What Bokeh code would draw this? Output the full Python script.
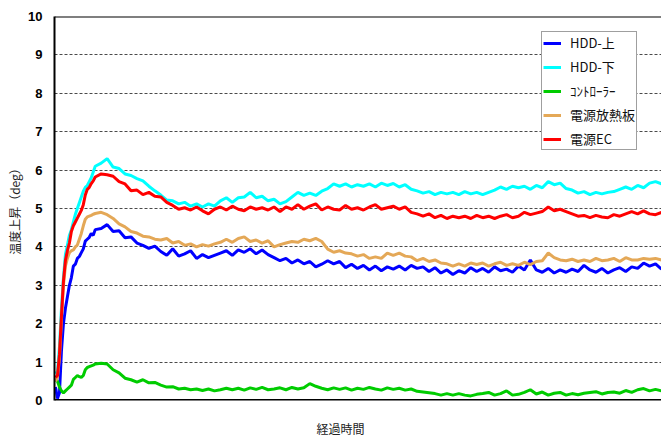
from bokeh.plotting import figure
from bokeh.models import Range1d, FixedTicker, Span, Title, Legend, LegendItem
from bokeh.embed import file_html
from bokeh.resources import INLINE

# sample times (arbitrary units, no ticks on the time axis)
time = [0, 2, 4, 6, 8, 10, 12, 14, 16, 18, 20, 22, 24, 26, 28, 30, 32, 34, 36, 38, 40,
        46, 52, 58, 64, 70, 76, 82, 88, 94, 100,
        106, 112, 118, 124, 130, 136, 142, 148, 154, 160,
        166, 172, 178, 184, 190, 196, 202, 208, 214, 220,
        226, 232, 238, 244, 250, 256, 262, 268, 274, 280,
        286, 292, 298, 304, 310, 316, 322, 328, 334, 340,
        346, 352, 358, 364, 370, 376, 382, 388, 394, 400,
        406, 412, 418, 424, 430, 436, 442, 448, 454, 460,
        466, 472, 478, 484, 490, 496, 502, 508, 514, 520,
        526, 532, 538, 544, 550, 556, 562, 568, 574, 580,
        586, 592, 598, 604, 610]

hdd_top = [0.35, 0.05, 0.20, 1.30, 2.00, 2.40, 2.70, 3.00, 3.20, 3.50, 3.55, 3.70, 3.75, 3.85, 3.95, 4.15, 4.20, 4.25, 4.35, 4.30, 4.45,
           4.48, 4.58, 4.40, 4.42, 4.24, 4.26, 4.10, 4.04, 3.96, 4.02,
           3.88, 3.78, 3.95, 3.76, 3.82, 3.90, 3.70, 3.80, 3.72, 3.78,
           3.84, 3.90, 3.78, 3.92, 3.86, 3.95, 3.82, 3.92, 3.80, 3.72,
           3.64, 3.70, 3.58, 3.66, 3.56, 3.62, 3.48, 3.55, 3.64, 3.56,
           3.62, 3.46, 3.55, 3.44, 3.52, 3.40, 3.50, 3.38, 3.48, 3.42,
           3.50, 3.40, 3.52, 3.44, 3.48, 3.36, 3.46, 3.32, 3.40, 3.28,
           3.38, 3.32, 3.46, 3.36, 3.44, 3.34, 3.48, 3.38, 3.42, 3.34,
           3.50, 3.40, 3.66, 3.40, 3.34, 3.44, 3.32, 3.40, 3.34, 3.42,
           3.36, 3.52, 3.40, 3.34, 3.44, 3.32, 3.40, 3.46, 3.36, 3.48,
           3.44, 3.58, 3.50, 3.56, 3.42]

hdd_bottom = [0.70, 0.75, 1.40, 2.40, 3.20, 3.80, 4.05, 4.30, 4.45, 4.65, 4.85, 5.00, 5.15, 5.30, 5.45, 5.55, 5.60, 5.70, 5.80, 5.95, 6.10,
              6.18, 6.30, 6.08, 6.04, 5.90, 5.86, 5.78, 5.72, 5.58, 5.46,
              5.35, 5.22, 5.20, 5.12, 5.16, 5.06, 5.12, 5.04, 5.12, 5.06,
              5.20, 5.28, 5.16, 5.28, 5.30, 5.42, 5.28, 5.32, 5.20, 5.24,
              5.12, 5.18, 5.30, 5.42, 5.34, 5.40, 5.34, 5.45, 5.52, 5.64,
              5.58, 5.64, 5.56, 5.62, 5.58, 5.64, 5.56, 5.66, 5.60, 5.65,
              5.56, 5.62, 5.50, 5.46, 5.40, 5.44, 5.36, 5.42, 5.38, 5.42,
              5.36, 5.44, 5.38, 5.42, 5.36, 5.42, 5.48, 5.56, 5.50, 5.58,
              5.54, 5.58, 5.50, 5.60, 5.54, 5.70, 5.62, 5.66, 5.52, 5.48,
              5.40, 5.44, 5.36, 5.42, 5.38, 5.42, 5.44, 5.50, 5.56, 5.50,
              5.60, 5.54, 5.66, 5.70, 5.64]

controller = [0.55, 0.50, 0.35, 0.25, 0.20, 0.25, 0.30, 0.35, 0.40, 0.55, 0.60, 0.65, 0.62, 0.60, 0.65, 0.80, 0.86, 0.88, 0.90, 0.92, 0.95,
              0.97, 0.95, 0.80, 0.72, 0.58, 0.54, 0.48, 0.54, 0.46, 0.47,
              0.40, 0.35, 0.36, 0.30, 0.32, 0.28, 0.30, 0.26, 0.30, 0.25,
              0.28, 0.32, 0.28, 0.32, 0.27, 0.33, 0.29, 0.34, 0.28, 0.30,
              0.33, 0.28, 0.34, 0.30, 0.33, 0.44, 0.37, 0.32, 0.28, 0.33,
              0.29, 0.33, 0.27, 0.32, 0.29, 0.34, 0.30, 0.27, 0.33, 0.29,
              0.32, 0.27, 0.30, 0.24, 0.22, 0.20, 0.18, 0.14, 0.18, 0.14,
              0.18, 0.14, 0.12, 0.16, 0.18, 0.21, 0.14, 0.18, 0.25, 0.14,
              0.16, 0.21, 0.28, 0.17, 0.22, 0.14, 0.19, 0.21, 0.14, 0.18,
              0.15, 0.19, 0.21, 0.23, 0.17, 0.21, 0.22, 0.19, 0.26, 0.21,
              0.28, 0.31, 0.25, 0.29, 0.25]

psu_heatsink = [0.50, 0.60, 1.10, 2.10, 3.00, 3.50, 3.70, 3.85, 3.90, 3.92, 4.00, 4.05, 4.20, 4.35, 4.55, 4.72, 4.78, 4.80, 4.82, 4.85, 4.87,
                4.90, 4.84, 4.74, 4.60, 4.52, 4.40, 4.36, 4.28, 4.26, 4.20,
                4.18, 4.22, 4.10, 4.14, 4.04, 4.08, 4.00, 4.06, 4.02, 4.08,
                4.12, 4.20, 4.12, 4.22, 4.26, 4.14, 4.18, 4.10, 4.16, 4.00,
                4.06, 4.10, 4.14, 4.12, 4.20, 4.16, 4.22, 4.14, 3.94, 3.86,
                3.90, 3.84, 3.82, 3.76, 3.80, 3.70, 3.74, 3.70, 3.84, 3.78,
                3.84, 3.76, 3.74, 3.64, 3.70, 3.62, 3.66, 3.58, 3.56, 3.50,
                3.56, 3.50, 3.58, 3.54, 3.58, 3.50, 3.56, 3.60, 3.52, 3.56,
                3.52, 3.60, 3.54, 3.62, 3.64, 3.84, 3.72, 3.66, 3.64, 3.68,
                3.62, 3.66, 3.62, 3.70, 3.64, 3.66, 3.70, 3.62, 3.72, 3.66,
                3.66, 3.70, 3.68, 3.70, 3.66]

psu_ec = [0.60, 0.65, 1.20, 2.20, 3.10, 3.65, 3.90, 4.10, 4.40, 4.55, 4.65, 4.75, 4.85, 4.95, 5.10, 5.35, 5.50, 5.55, 5.65, 5.72, 5.82,
          5.90, 5.88, 5.84, 5.70, 5.64, 5.46, 5.48, 5.36, 5.42, 5.32,
          5.30, 5.16, 5.08, 4.98, 5.02, 4.96, 5.04, 4.94, 4.86, 4.98,
          5.04, 4.96, 5.06, 4.98, 4.94, 5.04, 4.98, 5.02, 4.96, 5.04,
          4.92, 5.04, 4.98, 5.10, 4.98, 5.06, 5.12, 4.96, 5.04, 4.98,
          4.96, 5.08, 4.98, 5.02, 4.96, 5.04, 5.10, 4.98, 5.02, 5.06,
          4.98, 5.04, 4.90, 4.86, 4.80, 4.86, 4.76, 4.82, 4.74, 4.80,
          4.76, 4.80, 4.74, 4.82, 4.76, 4.80, 4.74, 4.80, 4.84, 4.76,
          4.80, 4.90, 4.84, 4.88, 4.92, 5.04, 4.94, 4.98, 4.92, 4.86,
          4.80, 4.82, 4.76, 4.82, 4.78, 4.76, 4.84, 4.80, 4.86, 4.92,
          4.86, 4.94, 4.86, 4.84, 4.90]

series_names = ["HDD-上", "HDD-下", "ｺﾝﾄﾛｰﾗｰ", "電源放熱板", "電源EC"]
series_values = [hdd_top, hdd_bottom, controller, psu_heatsink, psu_ec]
series_colors = ["#0000FF", "#00FFFF", "#00CC00", "#E4A857", "#FF0000"]
y_ticks = [0, 1, 2, 3, 4, 5, 6, 7, 8, 9, 10]
y_label = "温度上昇（deg）"
x_label = "経過時間"

p = figure(width=661, height=436, output_backend="svg", toolbar_location=None,
           x_range=Range1d(-1, 610), y_range=Range1d(0, 10),
           min_border_left=54, min_border_right=0, min_border_top=16, min_border_bottom=36)
p.outline_line_color = None
p.background_fill_color = "white"
p.border_fill_color = "white"

p.xaxis.visible = False
p.xgrid.visible = False

yax = p.yaxis[0]
yax.ticker = FixedTicker(ticks=y_ticks)
yax.axis_line_color = "black"
yax.axis_line_width = 2
yax.major_tick_out = 0
yax.major_tick_in = 0
yax.minor_tick_out = 0
yax.minor_tick_in = 0
yax.major_label_standoff = 12
yax.major_label_text_font = "Liberation Sans"
yax.major_label_text_font_style = "bold"
yax.major_label_text_font_size = "13px"
yax.major_label_text_color = "black"
yax.axis_label = y_label
yax.axis_label_text_font = "Noto Sans CJK JP"
yax.axis_label_text_font_style = "normal"
yax.axis_label_text_font_size = "12px"
yax.axis_label_text_color = "#222222"
yax.axis_label_standoff = 2

p.ygrid.ticker = FixedTicker(ticks=y_ticks)
p.ygrid.grid_line_color = "#4a4a4a"
p.ygrid.grid_line_dash = "3 2"
p.ygrid.grid_line_width = 1

items = []
for name, vals, col in zip(series_names, series_values, series_colors):
    r = p.line(time, vals, line_color=col, line_width=3)
    items.append(LegendItem(label=name, renderers=[r]))

p.add_layout(Span(location=0, dimension="width", line_color="black", line_width=3))
p.add_layout(Span(location=10, dimension="width", line_color="black", line_width=2))

legend = Legend(items=items, location=(487, 250))
legend.label_text_font = "Noto Sans CJK JP"
legend.label_text_font_size = "13px"
legend.label_text_color = "#111111"
legend.glyph_width = 18
legend.glyph_height = 18
legend.label_height = 18
legend.spacing = 5
legend.padding = 1
legend.margin = 0
legend.label_standoff = 9
legend.border_line_color = "#404040"
legend.border_line_width = 1
legend.background_fill_color = "white"
legend.background_fill_alpha = 1
p.add_layout(legend, "center")

# x-axis title sits below the frame, left of centre as in the original
p.add_layout(Title(text="\n" + x_label, align="left", offset=262, vertical_align="bottom",
                   text_font="Noto Sans CJK JP", text_font_size="12px",
                   text_font_style="normal", text_color="#222222", standoff=0), "below")

open("out.html", "w").write(file_html(p, INLINE))
